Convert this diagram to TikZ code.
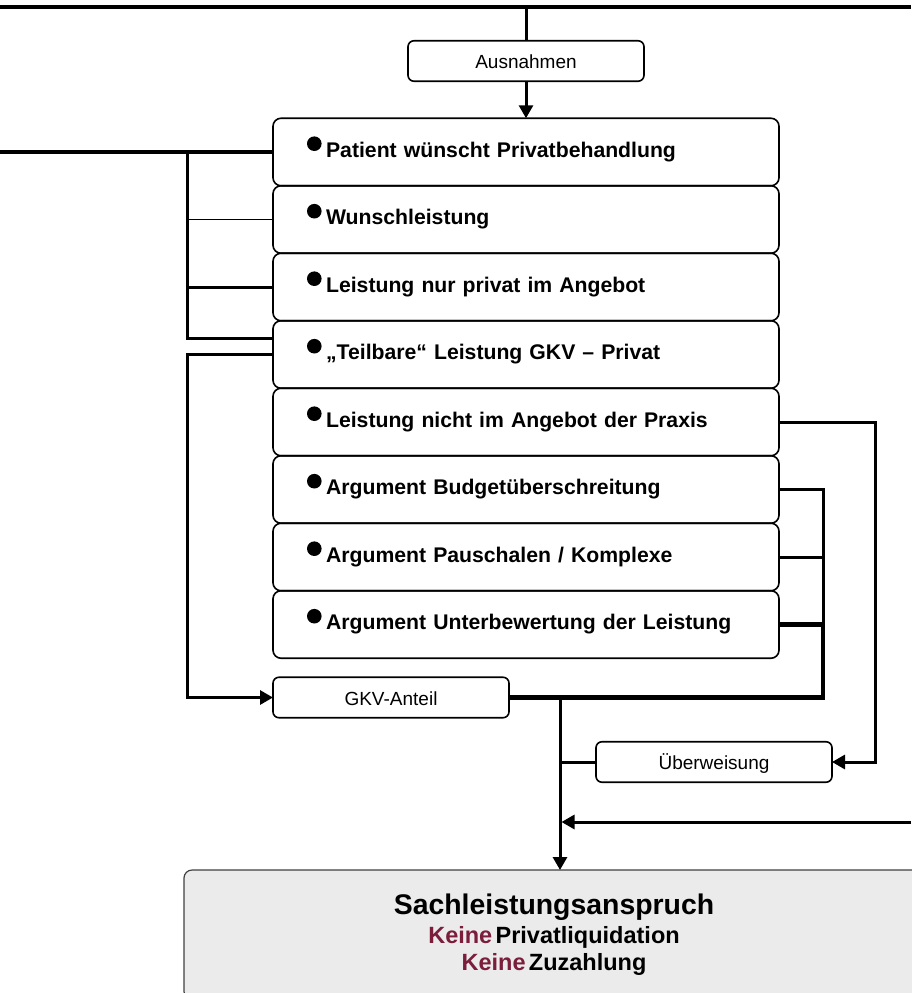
\documentclass[tikz,border=0pt]{standalone}
\usepackage{fontspec}
\setmainfont{Liberation Sans}
\usetikzlibrary{positioning,arrows.meta,calc}
\definecolor{keinered}{HTML}{7A1E3C}
\definecolor{sachgray}{HTML}{EBEBEB}
\newcommand{\blob}{\tikz[baseline=0pt]\fill (0pt,13.3pt) circle[radius=7.3pt];\hspace{4.5pt}}

\begin{document}
\begin{tikzpicture}[
    x=1pt, y=-1pt,
    item/.style={rectangle, draw, line width=1.6pt, rounded corners=8pt, outer sep=0pt,
                 minimum height=67.5pt, text width=438pt, inner xsep=34pt, align=left,
                 text height=21pt, text depth=11pt, font=\fontsize{21.2}{25}\selectfont\bfseries},
    small/.style={rectangle, draw, line width=1.6pt, rounded corners=6pt, outer sep=0pt,
                  minimum width=236pt, minimum height=40.5pt, text height=15.6pt,
                  text depth=0pt, font=\fontsize{19}{23}\selectfont},
    result/.style={rectangle, draw=black!75, line width=1.2pt, fill=sachgray,
                   rounded corners=8pt, outer sep=0pt, text width=700pt, inner xsep=20pt,
                   inner ysep=24pt, align=center, font=\bfseries},
    link/.style={line width=3pt},
    arrow/.style={link, -{Triangle[length=13pt, width=14pt]}}
]
  \useasboundingbox (0,0) rectangle (911,993);

  % Boxes
  \node[small] (aus) at (526,61) {Ausnahmen};
  \node[item, below=37pt of aus] (b1) {\blob Patient wünscht Privatbehandlung};
  \node[item, below=0pt of b1] (b2) {\blob Wunschleistung};
  \node[item, below=0pt of b2] (b3) {\blob Leistung nur privat im Angebot};
  \node[item, below=0pt of b3] (b4) {\blob „Teilbare“ Leistung GKV – Privat};
  \node[item, below=0pt of b4] (b5) {\blob Leistung nicht im Angebot der Praxis};
  \node[item, below=0pt of b5] (b6) {\blob Argument Budgetüberschreitung};
  \node[item, below=0pt of b6] (b7) {\blob Argument Pauschalen / Komplexe};
  \node[item, below=0pt of b7] (b8) {\blob Argument Unterbewertung der Leistung};
  \node[small, below right=19pt and 0pt of b8.south west] (gkv) {GKV-Anteil};
  \node[small] (ueb) at (714,762) {Überweisung};
  \node[result, anchor=north west] (sach) at (184,870)
    {{\fontsize{28.4}{34}\selectfont Sachleistungsanspruch\par}
     {\fontsize{23.5}{29.4}\selectfont {\color{keinered}Keine} Privatliquidation\\[-2.8pt]
      {\color{keinered}Keine} Zuzahlung\par}};

  % Free ends and bus lines
  \coordinate (topL) at (0,7);
  \coordinate (topR) at (911,7);
  \coordinate (leftL) at (0,152);
  \coordinate (rightR) at (911,822);
  \coordinate (brk) at (187,0);
  \coordinate (rbrk) at (823,0);
  \coordinate (obrk) at (875,0);
  \coordinate (drop) at ([xshift=51pt]gkv.east);

  % Top
  \draw[link, line width=3.5pt] (topL) -- (topR);
  \draw[link] (topL -| aus) -- (aus);
  \draw[arrow] (aus) -- (b1);

  % Left side
  \draw[link, line width=3.5pt] (leftL) -- (b1.west);
  \draw[link] (b1.west -| brk) |- ([yshift=16pt]b4.west);
  \draw[link, line width=1.6pt] (b2.west) -- (b2.west -| brk);
  \draw[link] (b3.west) -- (b3.west -| brk);
  \draw[arrow] (b4.west) -- (b4.west -| brk) |- (gkv.west);

  % Right side
  \draw[link] (b6.east) -| (rbrk |- b8.east);
  \draw[link] (b7.east) -- (b7.east -| rbrk);
  \draw[link, line width=4.5pt] (b8.east) -| (rbrk |- gkv.east) -- (gkv.east);
  \draw[arrow] (b5.east) -- (b5.east -| obrk) |- (ueb.east);

  % Down to Sachleistungsanspruch
  \draw[arrow] (drop) -- (drop |- sach.north);
  \draw[link] (ueb.west) -- (ueb.west -| drop);
  \draw[arrow, shorten >=1.5pt] (rightR) -- (rightR -| drop);
\end{tikzpicture}
\end{document}
